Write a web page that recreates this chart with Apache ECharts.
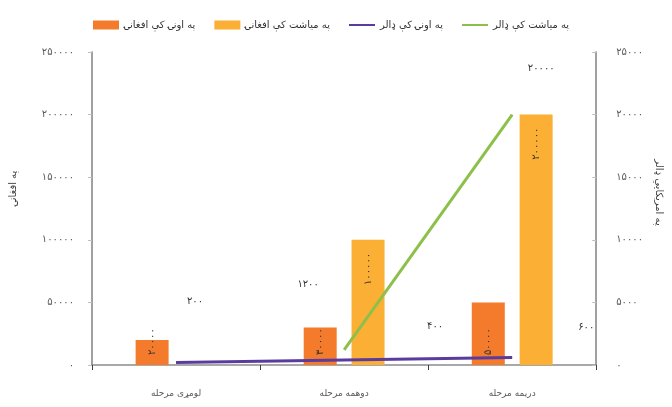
<!DOCTYPE html>
<html>
<head>
<meta charset="utf-8">
<script src="https://cdn.jsdelivr.net/npm/echarts@6/dist/echarts.min.js"></script>
<style>html,body{margin:0;padding:0;background:#fff}#c{width:672px;height:407px}</style>
</head>
<body>
<div id="c"></div>
<script>
const categories = ['لومړی مرحله', 'دوهمه مرحله', 'دریمه مرحله'];
const seriesNames = ['په اونۍ کې افغانۍ', 'په میاشت کې افغانۍ', 'په اونۍ کې ډالر', 'په میاشت کې ډالر'];
const weeklyAfn = [20000, 30000, 50000];
const monthlyAfn = [null, 100000, 200000];
const weeklyUsd = [200, 400, 600];
const monthlyUsd = [null, 1200, 20000];
const leftTicks = [0, 50000, 100000, 150000, 200000, 250000];
const rightTicks = [0, 5000, 10000, 15000, 20000, 25000];

const weeklyUsdLabelOffset = [[19, -51], [91, -24], [74, -20]];
const monthlyUsdLabelOffset = [null, [-36, -56], [29, -36]];

const FONT = 'DejaVu Sans';
function fa(n) { return String(n).replace(/\d/g, d => '۰۱۲۳۴۵۶۷۸۹'[d]); }

const chart = echarts.init(document.getElementById('c'), null, { renderer: 'canvas' });
const lblStyle = { color: '#333333', fontSize: 10, fontFamily: FONT };
const lineIcon = 'path://M0,0 L0.01,0 L0.01,0.01 Z M0,3.6 L26,3.6 L26,5.6 L0,5.6 Z M0,9 L0.01,9 L0.01,8.99 Z';

chart.setOption({
  animation: false,
  backgroundColor: '#ffffff',
  textStyle: { fontFamily: FONT },
  legend: {
    top: 15, left: 88,
    itemWidth: 26, itemHeight: 9, itemGap: 19,
    textStyle: { fontSize: 10, color: '#333333', fontFamily: FONT },
    data: [
      { name: seriesNames[0], icon: 'rect' },
      { name: seriesNames[1], icon: 'rect' },
      { name: seriesNames[2], icon: lineIcon },
      { name: seriesNames[3], icon: lineIcon }
    ]
  },
  grid: { left: 91, right: 60, top: 52, bottom: 42 },
  xAxis: {
    type: 'category', data: categories,
    axisLine: { lineStyle: { color: '#8c8c8c', width: 1.5 } },
    axisTick: { show: true, length: 5, lineStyle: { color: '#404040' } },
    axisLabel: { color: '#595959', fontSize: 9, margin: 24, fontFamily: FONT }
  },
  yAxis: [
    {
      type: 'value', min: 0, max: 250000, interval: 50000,
      name: 'په افغانۍ', nameLocation: 'middle', nameGap: 74, nameRotate: 90,
      nameTextStyle: { color: '#404040', fontSize: 10, fontFamily: FONT, padding: [0, 0, 0, 40] },
      axisLine: { show: true, lineStyle: { color: '#808080', width: 1.5 } },
      axisTick: { show: true, length: 4, lineStyle: { color: '#bfbfbf' } },
      splitLine: { show: false },
      axisLabel: { color: '#595959', fontSize: 10, margin: 18, fontFamily: FONT,
        formatter: v => leftTicks.includes(v) ? fa(v) : '' }
    },
    {
      type: 'value', min: 0, max: 25000, interval: 5000,
      name: 'په امریکایي ډالر', nameLocation: 'middle', nameGap: 54, nameRotate: -90,
      nameTextStyle: { color: '#404040', fontSize: 10, fontFamily: FONT, padding: [0, 32, 0, 0] },
      axisLine: { show: true, lineStyle: { color: '#808080', width: 1.5 } },
      axisTick: { show: true, length: 4, inside: true, lineStyle: { color: '#bfbfbf' } },
      splitLine: { show: false },
      axisLabel: { color: '#595959', fontSize: 10, margin: 20, fontFamily: FONT,
        formatter: v => rightTicks.includes(v) ? fa(v) : '' }
    }
  ],
  series: [
    {
      name: seriesNames[0], type: 'bar', yAxisIndex: 0, data: weeklyAfn,
      barWidth: 33, barGap: '45%',
      itemStyle: { color: '#F47B2C' },
      label: { show: true, position: 'insideBottom', rotate: 90, align: 'left', verticalAlign: 'middle',
        distance: 10, ...lblStyle, formatter: p => fa(p.value) }
    },
    {
      name: seriesNames[1], type: 'bar', yAxisIndex: 0, data: monthlyAfn,
      barWidth: 33, barGap: '45%',
      itemStyle: { color: '#FBAF34' },
      label: { show: true, position: 'insideTop', rotate: 90, align: 'right', verticalAlign: 'middle',
        distance: 13, ...lblStyle, formatter: p => p.value == null ? '' : fa(p.value) }
    },
    {
      name: seriesNames[2], type: 'line', yAxisIndex: 1,
      data: weeklyUsd.map((v, i) => ({ value: v, label: { offset: weeklyUsdLabelOffset[i] } })),
      symbol: 'circle', symbolSize: 0.1, showSymbol: true,
      lineStyle: { color: '#5B3C9E', width: 3 }, itemStyle: { color: '#5B3C9E' },
      label: { show: true, position: 'top', ...lblStyle, formatter: p => fa(p.value) }
    },
    {
      name: seriesNames[3], type: 'line', yAxisIndex: 1,
      data: monthlyUsd.map((v, i) => v == null ? '-' : ({ value: v, label: { offset: monthlyUsdLabelOffset[i] } })),
      symbol: 'circle', symbolSize: 0.1, showSymbol: true,
      lineStyle: { color: '#8DC04A', width: 3 }, itemStyle: { color: '#8DC04A' },
      label: { show: true, position: 'top', ...lblStyle, formatter: p => fa(p.value) }
    }
  ]
});
</script>
</body>
</html>
